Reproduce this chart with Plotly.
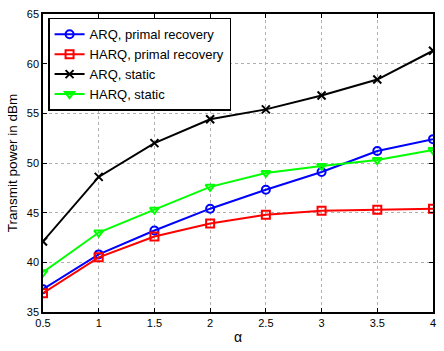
import plotly.graph_objects as go

alpha = [0.5, 1, 1.5, 2, 2.5, 3, 3.5, 4]
arq_primal = [37.3, 40.8, 43.2, 45.4, 47.3, 49.1, 51.2, 52.4]
harq_primal = [36.9, 40.5, 42.6, 43.9, 44.8, 45.2, 45.3, 45.4]
arq_static = [42.1, 48.6, 52.0, 54.4, 55.4, 56.8, 58.4, 61.3]
harq_static = [39.0, 43.0, 45.3, 47.6, 49.0, 49.7, 50.3, 51.3]

series = [
    ("ARQ, primal recovery", arq_primal, "#0000ff", "circle-open"),
    ("HARQ, primal recovery", harq_primal, "#ff0000", "square-open"),
    ("ARQ, static", arq_static, "#000000", "x-thin-open"),
    ("HARQ, static", harq_static, "#00ff00", "triangle-down-open"),
]

fig = go.Figure()
for name, ys, col, sym in series:
    fig.add_trace(go.Scatter(
        x=alpha, y=ys, name=name, mode="lines+markers",
        line=dict(color=col, width=2),
        marker=dict(symbol=sym, size=8, color=col, line=dict(color=col, width=2)),
    ))

axis_common = dict(
    showline=True, linecolor="black", linewidth=1.5, mirror="ticks",
    ticks="inside", ticklen=4, tickcolor="black",
    showgrid=True, gridcolor="#b0b0b0", griddash="dot", gridwidth=1,
    zeroline=False, tickfont=dict(size=11, color="black"),
)

fig.update_layout(
    width=444, height=351,
    margin=dict(l=43, r=8, t=10, b=31),
    paper_bgcolor="white", plot_bgcolor="white",
    font=dict(family="Liberation Sans, Arial, sans-serif", color="black"),
    xaxis=dict(range=[0.5, 4], tickvals=alpha, ticktext=["0.5", "1", "1.5", "2", "2.5", "3", "3.5", "4"],
               title=dict(text="α", font=dict(size=14), standoff=4), **axis_common),
    yaxis=dict(range=[35, 65], tickvals=[35, 40, 45, 50, 55, 60, 65],
               title=dict(text="Transmit power in dBm", font=dict(size=13.5), standoff=6), **axis_common),
    legend=dict(x=0.013, y=0.987, xanchor="left", yanchor="top",
                bgcolor="white", bordercolor="black", borderwidth=1.5,
                font=dict(size=13), tracegroupgap=0, itemwidth=30),
    showlegend=True,
)

fig.write_html("out.html")
